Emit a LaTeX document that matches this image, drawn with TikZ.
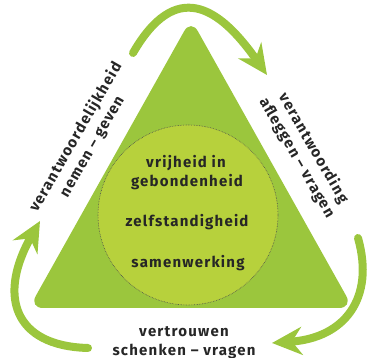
\documentclass[tikz,border=0pt]{standalone}
\usepackage{fontspec}
\setmainfont{Fira Sans}[LetterSpace=8]
\usetikzlibrary{arrows.meta}
\definecolor{leafgreen}{RGB}{155,198,61}
\definecolor{limegreen}{RGB}{183,209,60}
\tikzset{
  cycle arrow/.style={leafgreen, line width=8pt, line cap=round,
    -{Stealth[length=30pt,width=28pt,inset=10pt]}},
  label text/.style={font=\bfseries\fontsize{15}{19}\selectfont, align=center, text=black!85, inner sep=1pt},
}
\begin{document}
\begin{tikzpicture}[x=1pt,y=1pt]
    \useasboundingbox (0,0) rectangle (368,358);
    % Green triangle with rounded corners
    \fill[leafgreen, rounded corners=14pt] (29,50) -- (191,339) -- (353,50) -- cycle;
    % Inner circle with dotted border
    \filldraw[fill=limegreen, draw=black!70, densely dotted, line width=0.6pt] (188,143) circle (90);
    % Texts inside the circle
    \node[label text, anchor=base] (freedom) at (186,190) {vrijheid in};
    \node[label text, anchor=base] (bound) at (187,171) {gebondenheid};
    \node[label text, anchor=base] (autonomy) at (187,131) {zelfstandigheid};
    \node[label text, anchor=base] (teamwork) at (188,90) {samenwerking};
    % Texts along the sides
    \node[label text, rotate=60] (responsibility) at (84,216) {verantwoordelijkheid\\nemen -- geven};
    \node[label text, rotate=-60] (accountability) at (305,205) {verantwoording\\afleggen -- vragen};
    \node[label text] (trust) at (184,15) {vertrouwen\\schenken -- vragen};
    % Arrow ends
    \coordinate (topstart) at (133,305);
    \coordinate (topend) at (267,283);
    \coordinate (rightstart) at (358,120);
    \coordinate (rightend) at (272,15);
    \coordinate (leftstart) at (88,10);
    \coordinate (leftend) at (40,137);
    % Arrows round the triangle
    \draw[cycle arrow] (topstart) to[out=60, in=125, looseness=1.6] (topend);
    \draw[cycle arrow] (rightstart) .. controls (375,60) and (345,20) .. (rightend);
    \draw[cycle arrow] (leftstart) .. controls (13,12) and (-2,63) .. (leftend);
\end{tikzpicture}
\end{document}
